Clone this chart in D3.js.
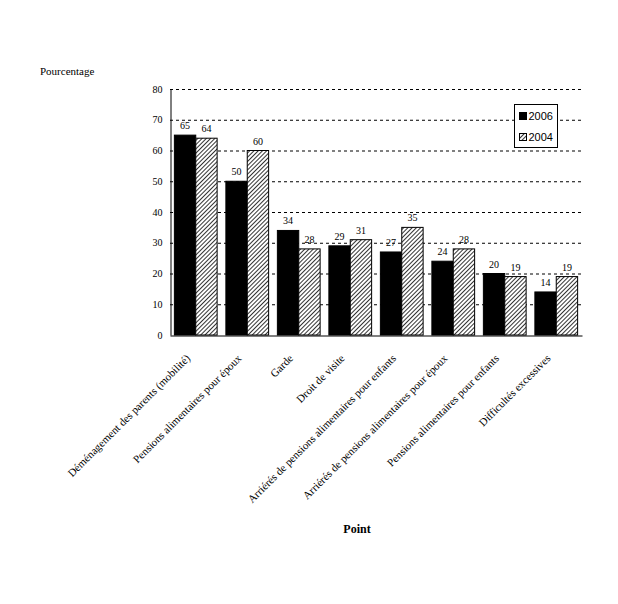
<!DOCTYPE html>
<html>
<head>
<meta charset="utf-8">
<script src="https://cdn.jsdelivr.net/npm/d3@7/dist/d3.min.js"></script>
<style>
  body { margin: 0; background: #fff; }
  svg { display: block; }
</style>
</head>
<body>
<div id="chart"></div>
<script>
var categories = [
  'Déménagement des parents (mobilité)',
  'Pensions alimentaires pour époux',
  'Garde',
  'Droit de visite',
  'Arriérés de pensions alimentaires pour enfants',
  'Arriérés de pensions alimentaires pour époux',
  'Pensions alimentaires pour enfants',
  'Difficultés excessives'
];
var seriesNames = ['2006', '2004'];
var values2006 = [65, 50, 34, 29, 27, 24, 20, 14];
var values2004 = [64, 60, 28, 31, 35, 28, 19, 19];
var yTicks = [0, 10, 20, 30, 40, 50, 60, 70, 80];

var SERIF = '"Liberation Serif", "DejaVu Serif", serif';

drawChart();

function drawChart() {
  var width = 618, height = 604;
  var left = 170, right = 582, top = 89, bottom = 335;

  var svg = d3.select('#chart').append('svg')
    .attr('width', width)
    .attr('height', height);

  // hatch for the 2004 bars
  var defs = svg.append('defs');
  var pat = defs.append('pattern')
    .attr('id', 'hatch')
    .attr('patternUnits', 'userSpaceOnUse')
    .attr('width', 3)
    .attr('height', 3)
    .attr('patternTransform', 'rotate(45)');
  pat.append('rect').attr('width', 3).attr('height', 3).attr('fill', '#fff');
  pat.append('line')
    .attr('x1', 0).attr('y1', 0).attr('x2', 0).attr('y2', 3)
    .attr('stroke', '#000').attr('stroke-width', 1.6);

  var rows = categories.map(function (c, i) {
    return { name: c, vals: [values2006[i], values2004[i]] };
  });

  var x = d3.scaleBand()
    .domain(categories)
    .range([left, right])
    .paddingInner(0.17)
    .paddingOuter(0.085);

  var xs = d3.scaleBand()
    .domain(seriesNames)
    .range([0, x.bandwidth()]);

  var y = d3.scaleLinear()
    .domain([0, 80])
    .range([bottom, top]);

  // dashed grid
  svg.append('g').selectAll('line')
    .data(yTicks.filter(function (t) { return t > 0; }))
    .enter().append('line')
    .attr('x1', left).attr('x2', right)
    .attr('y1', function (d) { return y(d) + 0.5; })
    .attr('y2', function (d) { return y(d) + 0.5; })
    .attr('stroke', '#000')
    .attr('stroke-width', 1)
    .attr('stroke-dasharray', '3,3');

  // bars
  var groups = svg.append('g').selectAll('g')
    .data(rows)
    .enter().append('g')
    .attr('transform', function (d) { return 'translate(' + x(d.name) + ',0)'; });

  groups.selectAll('rect')
    .data(function (d) { return d.vals; })
    .enter().append('rect')
    .attr('x', function (d, i) { return xs(seriesNames[i]); })
    .attr('y', function (d) { return y(d); })
    .attr('width', xs.bandwidth())
    .attr('height', function (d) { return y(0) - y(d); })
    .attr('fill', function (d, i) { return i === 0 ? '#000' : 'url(#hatch)'; })
    .attr('stroke', '#000')
    .attr('stroke-width', 1);

  groups.selectAll('text')
    .data(function (d) { return d.vals; })
    .enter().append('text')
    .style('font-family', SERIF)
    .attr('x', function (d, i) { return xs(seriesNames[i]) + xs.bandwidth() / 2; })
    .attr('y', function (d) { return y(d) - 6; })
    .attr('text-anchor', 'middle')
    .attr('font-size', '10px')
    .text(function (d) { return d; });

  // y axis
  var yAxis = d3.axisLeft(y).tickValues(yTicks).tickSize(0).tickPadding(8);
  var gy = svg.append('g')
    .attr('transform', 'translate(' + (left + 0.5) + ',0)')
    .call(yAxis);
  gy.selectAll('text')
    .style('font-family', SERIF)
    .attr('font-size', '10px')
    .attr('fill', '#000');
  gy.select('.domain').attr('stroke', '#000');

  // x axis
  var xAxis = d3.axisBottom(x).tickSize(0).tickFormat('');
  var gx = svg.append('g')
    .attr('transform', 'translate(0,' + (bottom + 0.5) + ')')
    .call(xAxis);
  gx.select('.domain').attr('stroke', '#000');

  // rotated category labels
  svg.append('g').selectAll('text')
    .data(categories)
    .enter().append('text')
    .style('font-family', SERIF)
    .attr('font-size', '11px')
    .attr('text-anchor', 'end')
    .attr('transform', function (d) {
      var cx = x(d) + x.bandwidth() / 2 - 5;
      return 'translate(' + cx + ',' + (bottom + 24) + ') rotate(-45)';
    })
    .text(function (d) { return d; });

  // titles
  svg.append('text')
    .style('font-family', SERIF)
    .attr('x', 40).attr('y', 75)
    .attr('font-size', '11px')
    .text('Pourcentage');

  svg.append('text')
    .style('font-family', SERIF)
    .attr('x', 357).attr('y', 533)
    .attr('text-anchor', 'middle')
    .attr('font-size', '12px')
    .attr('font-weight', 'bold')
    .text('Point');

  // legend
  var lg = svg.append('g').attr('transform', 'translate(514.5,104.5)');
  lg.append('rect')
    .attr('width', 43).attr('height', 43)
    .attr('fill', '#fff').attr('stroke', '#000');
  var items = lg.selectAll('g.item')
    .data(seriesNames)
    .enter().append('g')
    .attr('class', 'item')
    .attr('transform', function (d, i) { return 'translate(5,' + (8 + i * 21) + ')'; });
  items.append('rect')
    .attr('width', 7).attr('height', 7)
    .attr('fill', function (d, i) { return i === 0 ? '#000' : 'url(#hatch)'; })
    .attr('stroke', '#000');
  items.append('text')
    .attr('x', 9).attr('y', 7.5)
    .attr('font-family', '"Liberation Sans", Arial, sans-serif')
    .attr('font-size', '11px')
    .text(function (d) { return d; });
}
</script>
</body>
</html>
